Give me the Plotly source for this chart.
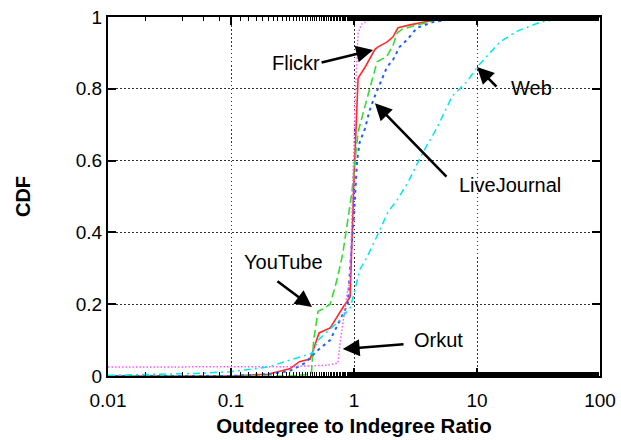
import math
import plotly.graph_objects as go

# ---------------- data ----------------
flickr_x = [0.01, 0.1, 0.2, 0.3, 0.36, 0.44, 0.52, 0.64, 0.81, 0.93, 1.0, 1.08, 1.23, 1.48, 1.57, 1.85, 2.07, 2.28, 2.85, 4.2, 6, 100]
flickr_y = [0.0, 0.0, 0.005, 0.02, 0.04, 0.047, 0.12, 0.134, 0.19, 0.22, 0.55, 0.83, 0.86, 0.91, 0.917, 0.93, 0.944, 0.97, 0.978, 0.99, 1.0, 1.0]

youtube_x = [0.01, 0.1, 0.3, 0.45, 0.47, 0.51, 0.56, 0.64, 0.73, 0.81, 0.89, 0.96, 1.02, 1.08, 1.16, 1.27, 1.4, 1.54, 1.85, 2.07, 2.24, 2.46, 2.85, 5, 8, 100]
youtube_y = [0.0, 0.0, 0.0, 0.005, 0.1, 0.18, 0.187, 0.2, 0.27, 0.34, 0.43, 0.51, 0.6, 0.68, 0.72, 0.77, 0.82, 0.875, 0.89, 0.92, 0.955, 0.966, 0.972, 0.995, 1.0, 1.0]

livejournal_x = [0.01, 0.1, 0.2, 0.3, 0.4, 0.5, 0.64, 0.77, 0.89, 0.95, 1.0, 1.06, 1.11, 1.23, 1.34, 1.48, 1.69, 1.85, 2.07, 2.35, 2.69, 3.26, 4.4, 6.9, 10, 100]
livejournal_y = [0.0, 0.0, 0.005, 0.014, 0.036, 0.07, 0.1, 0.156, 0.2, 0.35, 0.45, 0.6, 0.65, 0.69, 0.74, 0.78, 0.83, 0.86, 0.88, 0.917, 0.936, 0.97, 0.986, 0.997, 1.0, 1.0]

orkut_x = [0.01, 0.1, 0.3, 0.6, 0.74, 0.77, 0.81, 0.87, 0.93, 0.97, 1.03, 1.08, 1.15, 1.3, 1.6, 2.5, 100]
orkut_y = [0.025, 0.025, 0.026, 0.03, 0.036, 0.09, 0.15, 0.22, 0.27, 0.5, 0.8, 0.955, 0.98, 0.99, 0.997, 1.0, 1.0]

web_x = [0.01, 0.02, 0.05, 0.1, 0.2, 0.3, 0.4, 0.46, 0.51, 0.64, 0.77, 0.93, 1.02, 1.11, 1.27, 1.54, 1.89, 2.24, 2.75, 3.6, 4.7, 6.3, 8.3, 10, 15.3, 21, 33, 45, 64, 100]
web_y = [0.002, 0.004, 0.007, 0.012, 0.025, 0.044, 0.058, 0.064, 0.1, 0.13, 0.156, 0.19, 0.24, 0.295, 0.33, 0.39, 0.457, 0.49, 0.54, 0.62, 0.69, 0.78, 0.82, 0.86, 0.93, 0.96, 0.986, 0.994, 0.997, 1.0]

x_tickvals = [0.01, 0.1, 1, 10, 100]
x_ticktext = ["0.01", "0.1", "1", "10", "100"]
y_tickvals = [0, 0.2, 0.4, 0.6, 0.8, 1]
y_ticktext = ["0", "0.2", "0.4", "0.6", "0.8", "1"]

# label: (text x, text y, arrow tail x, tail y, arrow head x, head y)
labels = {
    "Flickr": (0.337, 0.872, 0.53, 0.872, 1.43, 0.908),
    "LiveJournal": (18.5, 0.532, 5.8, 0.551, 1.48, 0.76),
    "Web": (27.5, 0.802, 14.8, 0.802, 10.0, 0.861),
    "YouTube": (0.265, 0.318, 0.232, 0.267, 0.456, 0.192),
    "Orkut": (4.82, 0.10, 2.6, 0.089, 0.81, 0.075),
}

FONT = "Liberation Sans, Arial, Helvetica, sans-serif"

fig = go.Figure()
series = [
    (flickr_x, flickr_y, "#ff2a2a", "solid", 1.6),
    (youtube_x, youtube_y, "#33dd33", "8px,4px", 1.6),
    (livejournal_x, livejournal_y, "#1f5fff", "3px,4px", 2.0),
    (orkut_x, orkut_y, "#ff55ff", "1.5px,2px", 1.5),
    (web_x, web_y, "#00e8ee", "7px,4px,2px,4px", 1.5),
]
for xs, ys, col, dash, w in series:
    fig.add_trace(go.Scatter(x=xs, y=ys, mode="lines",
                             line=dict(color=col, dash=dash, width=w),
                             showlegend=False, hoverinfo="skip"))

# invisible trace anchoring the top axis (for mirrored minor ticks)
fig.add_trace(go.Scatter(x=[0.01, 100], y=[0, 1], xaxis="x2", mode="markers",
                         marker=dict(opacity=0), showlegend=False, hoverinfo="skip"))

for name, (tx, ty, ax_, ay_, hx, hy) in labels.items():
    fig.add_annotation(x=math.log10(tx), y=ty, xref="x", yref="y", text=name,
                       showarrow=False, font=dict(family=FONT, size=20, color="black"))
    fig.add_annotation(x=math.log10(hx), y=hy, xref="x", yref="y",
                       ax=math.log10(ax_), ay=ay_, axref="x", ayref="y", text="",
                       showarrow=True, arrowhead=2, arrowsize=1.3, arrowwidth=2.6,
                       arrowcolor="black", standoff=0, startstandoff=0)

axis_common = dict(showline=True, linecolor="black", linewidth=2,
                   ticks="inside", ticklen=8, tickwidth=1.5, tickcolor="black",
                   gridcolor="#333333", gridwidth=1.2, griddash="1.5px,2.5px",
                   zeroline=False, automargin=False,
                   tickfont=dict(family=FONT, size=19, color="black"))

fig.update_layout(
    xaxis=dict(type="log", range=[-2, 2], tickvals=x_tickvals, ticktext=x_ticktext,
               showgrid=True, mirror=True, ticklabelstandoff=6,
               minor=dict(ticks="inside", ticklen=4, tickwidth=1, tickcolor="black", showgrid=False),
               title=dict(text="<b>Outdegree to Indegree Ratio</b>", standoff=9,
                          font=dict(family=FONT, size=20.5, color="black")),
               **axis_common),
    xaxis2=dict(type="log", range=[-2, 2], overlaying="x", side="top", anchor="y",
                tickvals=x_tickvals, showticklabels=False, showgrid=False,
                minor=dict(ticks="inside", ticklen=4, tickwidth=1, tickcolor="black", showgrid=False),
                **axis_common),
    yaxis=dict(range=[0, 1], tickvals=y_tickvals, ticktext=y_ticktext,
               showgrid=True, mirror="ticks",
               title=dict(text="<b>CDF</b>", standoff=40,
                          font=dict(family=FONT, size=20, color="black")),
               **axis_common),
    width=621, height=440, margin=dict(l=108, r=21, t=17, b=64),
    paper_bgcolor="white", plot_bgcolor="white", showlegend=False,
)

fig.write_html("out.html")
